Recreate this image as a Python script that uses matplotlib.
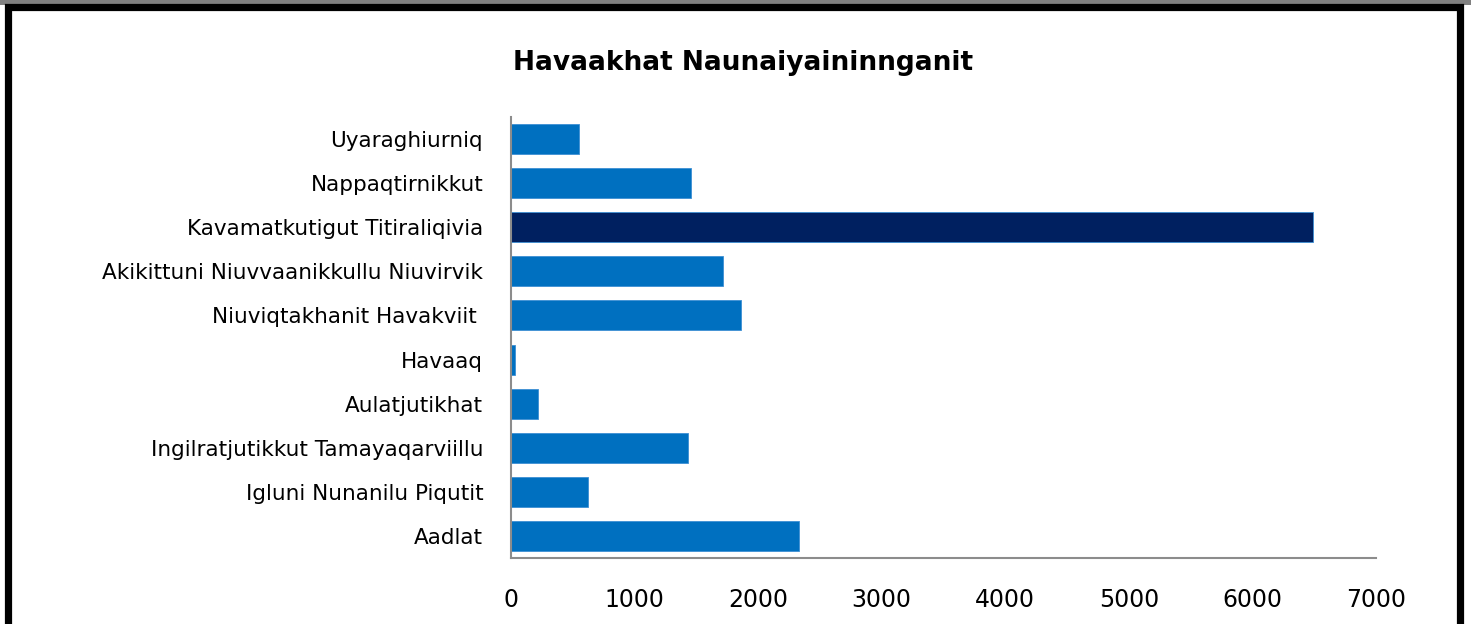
import matplotlib.pyplot as plt
from matplotlib.patches import Rectangle

# categories from bottom to top
categories = ["Aadlat", "Igluni Nunanilu Piqutit", "Ingilratjutikkut Tamayaqarviillu",
              "Aulatjutikhat", "Havaaq", "Niuviqtakhanit Havakviit ",
              "Akikittuni Niuvvaanikkullu Niuvirvik", "Kavamatkutigut Titiraliqivia",
              "Nappaqtirnikkut", "Uyaraghiurniq"]
values = [2330, 623, 1432, 220, 30, 1861, 1715, 6489, 1456, 550]
highlight = "Kavamatkutigut Titiraliqivia"
x_ticks = [0, 1000, 2000, 3000, 4000, 5000, 6000, 7000]
title = "Havaakhat Naunaiyaininnganit"

W, H = 1471, 624
fig = plt.figure(figsize=(W / 100, H / 100), dpi=100)
ax = fig.add_axes([511 / W, 1 - 558 / H, (1376 - 511) / W, (558 - 117) / H])

colors = ["#002060" if c == highlight else "#0070C0" for c in categories]
ax.barh(range(len(categories)), values, height=0.68, color=colors,
        edgecolor="#3d8fd4", linewidth=0.6)

ax.set_xlim(0, 7000)
ax.set_ylim(-0.5, len(categories) - 0.5)
ax.set_yticks(range(len(categories)))
ax.set_yticklabels(categories, fontsize=15.5)
ax.set_xticks(x_ticks)
ax.set_xticklabels([str(t) for t in x_ticks], fontsize=17)
ax.tick_params(length=0)
ax.tick_params(axis="y", pad=20)
ax.tick_params(axis="x", pad=21.5)

for s in ["top", "right"]:
    ax.spines[s].set_visible(False)
for s in ["left", "bottom"]:
    ax.spines[s].set_color("#8c8c8c")
    ax.spines[s].set_linewidth(1.5)

fig.text(743 / W, 1 - 63 / H, title, ha="center", va="center",
         fontsize=19, fontweight="bold")

# grey strip on top and black frame around the chart
fig.patches.append(Rectangle((0, 1 - 5 / H), 1, 5 / H, transform=fig.transFigure,
                             facecolor="#808080", edgecolor="none"))
fig.patches.append(Rectangle((8 / W, -0.05), (1460 - 8) / W, 1 - 7 / H + 0.05,
                             transform=fig.transFigure, facecolor="none",
                             edgecolor="black", linewidth=5.2))

fig.savefig("out.png", dpi=100)
